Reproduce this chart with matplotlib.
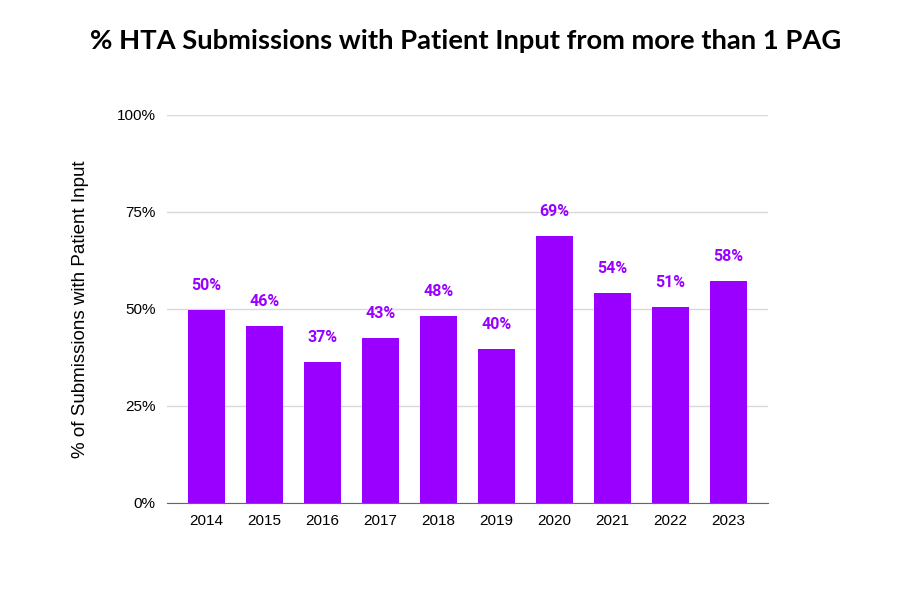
import numpy as np
import matplotlib.pyplot as plt
from matplotlib.ticker import PercentFormatter

years = ["2014", "2015", "2016", "2017", "2018", "2019", "2020", "2021", "2022", "2023"]
pct = [0.497, 0.456, 0.364, 0.425, 0.482, 0.397, 0.688, 0.541, 0.505, 0.572]
labels = ["50%", "46%", "37%", "43%", "48%", "40%", "69%", "54%", "51%", "58%"]

purple = "#9900ff"

fig = plt.figure(figsize=(9.04, 6.05), dpi=100)
ax = fig.add_axes([0.1847, 0.1686, 0.665, 0.6414])

x = np.arange(len(years))
bars = ax.bar(x, pct, width=0.64, color=purple, zorder=3)
for b, lab in zip(bars, labels):
    ax.annotate(lab, (b.get_x() + b.get_width() / 2, b.get_height()),
                xytext=(0, 12), textcoords="offset points", ha="center", va="bottom",
                color=purple, fontsize=11.5, fontweight="bold", family="Roboto")

ax.set_xlim(-0.68, 9.68)
ax.set_ylim(0, 1)
ax.set_yticks([0, 0.25, 0.5, 0.75, 1])
ax.yaxis.set_major_formatter(PercentFormatter(1, decimals=0))
ax.set_xticks(x, years)
ax.grid(axis="y", color="#d9d9d9", lw=1, zorder=0)
for s in ["top", "right", "left"]:
    ax.spines[s].set_visible(False)
ax.spines["bottom"].set_color("#666666")
ax.spines["bottom"].set_zorder(4)
ax.tick_params(length=0, labelsize=11, pad=8)
for t in ax.get_xticklabels() + ax.get_yticklabels():
    t.set_family("Liberation Sans")
ax.set_ylabel("% of Submissions with Patient Input", fontsize=13.5,
              family="Liberation Sans", labelpad=20)

fig.suptitle("% HTA Submissions with Patient Input from more than 1 PAG",
             x=0.515, y=0.952, fontsize=19.7, fontweight="bold", family="Lato")

fig.savefig("out.png", dpi=100)
